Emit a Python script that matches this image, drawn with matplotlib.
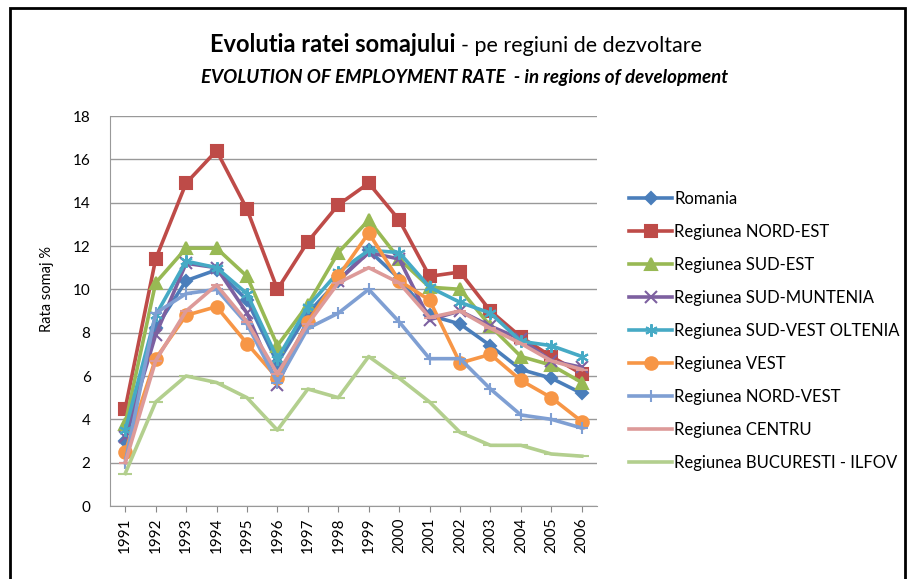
import matplotlib
matplotlib.use('Agg')
import matplotlib.pyplot as plt
from matplotlib.patches import Rectangle

ani = list(range(1991, 2007))

romania = [3.0, 8.2, 10.4, 10.9, 9.5, 6.6, 8.9, 10.4, 11.8, 10.5, 8.8, 8.4, 7.4, 6.3, 5.9, 5.2]
nord_est = [4.5, 11.4, 14.9, 16.4, 13.7, 10.0, 12.2, 13.9, 14.9, 13.2, 10.6, 10.8, 9.0, 7.8, 6.9, 6.1]
sud_est = [3.8, 10.3, 11.9, 11.9, 10.6, 7.4, 9.3, 11.7, 13.2, 11.4, 10.1, 10.0, 8.3, 6.9, 6.5, 5.7]
sud_muntenia = [3.2, 7.9, 11.2, 11.0, 8.9, 5.6, 8.6, 10.4, 11.7, 11.4, 8.6, 9.0, 8.3, 7.7, 6.7, 6.4]
sud_vest = [3.5, 8.8, 11.3, 11.0, 9.8, 6.8, 9.2, 10.8, 11.8, 11.7, 10.1, 9.4, 8.9, 7.6, 7.4, 6.9]
vest = [2.5, 6.8, 8.8, 9.2, 7.5, 5.9, 8.5, 10.6, 12.6, 10.4, 9.5, 6.6, 7.0, 5.8, 5.0, 3.9]
nord_vest = [2.0, 8.9, 9.8, 10.0, 8.4, 5.7, 8.2, 8.9, 10.0, 8.5, 6.8, 6.8, 5.4, 4.2, 4.0, 3.6]
centru = [2.0, 6.7, 9.0, 10.2, 8.5, 6.1, 8.4, 10.3, 11.0, 10.3, 8.7, 9.0, 8.2, 7.5, 6.7, 6.3]
bucuresti = [1.5, 4.8, 6.0, 5.7, 5.0, 3.5, 5.4, 5.0, 6.9, 5.9, 4.8, 3.4, 2.8, 2.8, 2.4, 2.3]

serii = [
    ('Romania', romania, '#4a7ebb', 'D', 6),
    ('Regiunea NORD-EST', nord_est, '#be4b48', 's', 9),
    ('Regiunea SUD-EST', sud_est, '#98b954', '^', 8),
    ('Regiunea SUD-MUNTENIA', sud_muntenia, '#7d60a0', 'x', 8),
    ('Regiunea SUD-VEST OLTENIA', sud_vest, '#46aac5', (6, 2, 0), 9),
    ('Regiunea VEST', vest, '#f79646', 'o', 9),
    ('Regiunea NORD-VEST', nord_vest, '#7f9fd3', '+', 9),
    ('Regiunea CENTRU', centru, '#dd9a99', '_', 8),
    ('Regiunea BUCURESTI - ILFOV', bucuresti, '#b3cf8e', '_', 10),
]

plt.rcParams['font.family'] = ['Lato', 'DejaVu Sans']

fig = plt.figure(figsize=(9.07, 5.79), dpi=100)
ax = fig.add_axes([110 / 907, 1 - 506 / 579, 487 / 907, 390 / 579])

for nume, val, culoare, marker, ms in serii:
    ax.plot(ani, val, color=culoare, linewidth=2.6, marker=marker, markersize=ms,
            markeredgewidth=1.5, label=nume)

ax.set_xlim(1990.5, 2006.5)
ax.set_ylim(0, 18)
ax.set_yticks(range(0, 19, 2))
ax.set_xticks(ani)
ax.set_xticklabels([str(a) for a in ani], rotation=90, fontsize=11)
ax.tick_params(axis='y', labelsize=11, length=0, pad=14)
ax.tick_params(axis='x', length=4, color='#888888', pad=4)
ax.yaxis.grid(True, color='#999999', linewidth=1)
ax.set_axisbelow(True)
for s in ['top', 'right']:
    ax.spines[s].set_visible(False)
for s in ['left', 'bottom']:
    ax.spines[s].set_color('#999999')
ax.set_ylabel('Rata somaj %', fontsize=10.5)
ax.yaxis.set_label_coords(-0.115, 0.556)

fig.text(456 / 907, 1 - 45 / 579, 'Evolutia ratei somajului', fontsize=17,
         fontweight='bold', ha='right', va='center')
fig.text(461 / 907, 1 - 46 / 579, '- pe regiuni de dezvoltare', fontsize=15.5,
         ha='left', va='center')
fig.text(465 / 907, 1 - 77 / 579, 'EVOLUTION OF EMPLOYMENT RATE  - in regions of development',
         fontsize=13.5, fontweight='bold', fontstyle='italic', ha='center', va='center')

fig.legend(loc='upper left', bbox_to_anchor=(614 / 907, 1 - 176 / 579), frameon=False,
           fontsize=12, labelspacing=1.02, handlelength=2.6, handletextpad=0.1)

fig.patches.append(Rectangle((10 / 907, -0.02), 895 / 907, 1.02 - 8 / 579,
                             transform=fig.transFigure, fill=False,
                             edgecolor='black', linewidth=2))

fig.savefig('out.png', dpi=100)
